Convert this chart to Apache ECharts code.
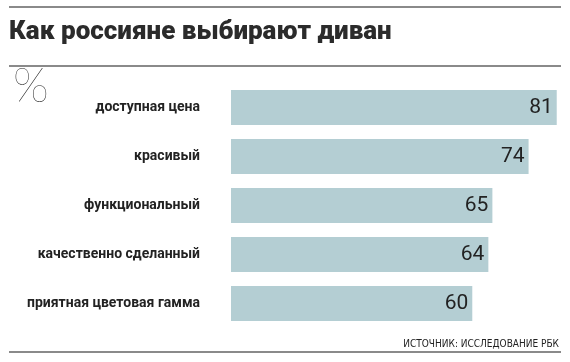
<!DOCTYPE html>
<html><head><meta charset="utf-8">
<script src="https://cdn.jsdelivr.net/npm/echarts@6/dist/echarts.min.js"></script>
<style>html,body{margin:0;padding:0;background:#fff}#c{width:570px;height:362px}</style>
</head><body><div id="c"></div>
<script>
const categories = ['доступная цена','красивый','функциональный','качественно сделанный','приятная цветовая гамма'];
const values = [81, 74, 65, 64, 60];
const title = 'Как россияне выбирают диван';
const unit = '%';
const source = 'ИСТОЧНИК: ИССЛЕДОВАНИЕ РБК';

const chart = echarts.init(document.getElementById('c'), null, {renderer:'canvas'});
chart.setOption({
  backgroundColor:'#fff',
  animation:false,
  graphic:[
    {type:'line', shape:{x1:9,y1:7,x2:561,y2:7}, style:{stroke:'#8a8a8a', lineWidth:2}},
    {type:'text', left:9, top:19, style:{text:title, font:'900 26px Roboto', fill:'#2b2b2b'}},
    {type:'line', shape:{x1:9,y1:66,x2:561,y2:66}, style:{stroke:'#8a8a8a', lineWidth:2}},
    {type:'text', left:13, top:63, style:{text:unit, font:'200 47px Lato', fill:'#222'}},
    {type:'text', right:11, top:339, style:{text:source, font:'10px "Liberation Sans Narrow", "DejaVu Sans Condensed"', fill:'#222'}},
    {type:'line', shape:{x1:9,y1:352,x2:561,y2:352}, style:{stroke:'#8a8a8a', lineWidth:2}}
  ],
  grid:{left:231, top:83, right:0, height:245},
  xAxis:{type:'value', min:0, max:84.3, show:false},
  yAxis:{type:'category', data:categories, inverse:true,
    axisLine:{show:false}, axisTick:{show:false},
    axisLabel:{margin:31, fontFamily:'Roboto', fontWeight:'bold', fontSize:14, color:'#222'}},
  series:[{type:'bar', data:values, barWidth:35,
    itemStyle:{color:'#b4ced3'},
    label:{show:true, position:'insideRight', distance:4, fontFamily:'Roboto', fontWeight:400, fontSize:21, color:'#222'}}]
});
</script></body></html>
